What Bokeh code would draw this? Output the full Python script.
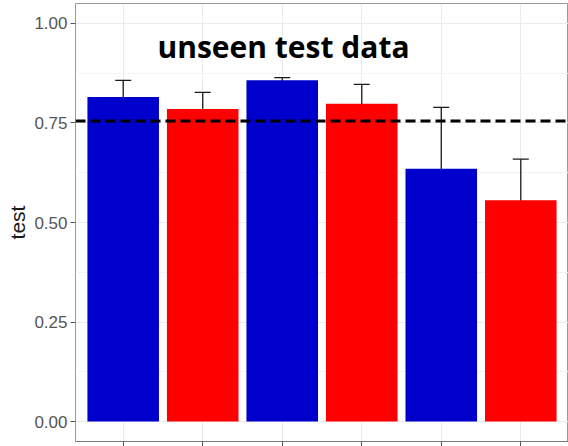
from bokeh.plotting import figure
from bokeh.models import (ColumnDataSource, Range1d, FixedTicker, Whisker, TeeHead,
                          Span, Label, CustomJSTickFormatter)
from bokeh.embed import file_html
from bokeh.resources import INLINE

# Six groups, alternating between the two model families
positions = [1, 2, 3, 4, 5, 6]
bar_colors = ["#0000CC", "#FF0000", "#0000CC", "#FF0000", "#0000CC", "#FF0000"]
test_score = [0.815, 0.785, 0.857, 0.798, 0.635, 0.556]
score_low = [0.774, 0.746, 0.830, 0.751, 0.484, 0.449]
score_high = [0.857, 0.827, 0.864, 0.847, 0.789, 0.659]
baseline = 0.755
y_ticks = [0.0, 0.25, 0.5, 0.75, 1.0]
y_minor = [0.125, 0.375, 0.625, 0.875]

src = ColumnDataSource(dict(x=positions, top=test_score, lo=score_low,
                            hi=score_high, color=bar_colors))

p = figure(width=568, height=446, output_backend="svg", toolbar_location=None,
           x_range=Range1d(0.4, 6.6), y_range=Range1d(-0.05, 1.05),
           min_border_left=75, min_border_right=0, min_border_top=3,
           min_border_bottom=5)
p.background_fill_color = "white"
p.border_fill_color = "white"
p.outline_line_color = "#9a9a9a"
p.outline_line_width = 1

# grid
p.xaxis.ticker = FixedTicker(ticks=positions)
p.yaxis.ticker = FixedTicker(ticks=y_ticks, minor_ticks=y_minor)
p.xgrid.grid_line_color = "#EBEBEB"
p.ygrid.grid_line_color = "#EBEBEB"
p.ygrid.minor_grid_line_color = "#F3F3F3"

# y axis
ya = p.yaxis[0]
ya.axis_label = "test"
ya.axis_label_text_font = "Liberation Sans"
ya.axis_label_text_font_size = "21px"
ya.axis_label_text_font_style = "normal"
ya.axis_label_text_color = "#1a1a1a"
ya.axis_label_standoff = 2
ya.major_label_text_font = "Liberation Sans"
ya.major_label_text_font_size = "17px"
ya.major_label_text_color = "#555555"
ya.major_label_standoff = 3
ya.major_tick_out = 5
ya.major_tick_in = 0
ya.major_tick_line_color = "#555555"
ya.minor_tick_line_color = None
ya.axis_line_color = None
ya.formatter = CustomJSTickFormatter(code="return tick.toFixed(2);")

# x axis: ticks only, the category labels sit below the canvas
xa = p.xaxis[0]
xa.major_label_text_font_size = "0px"
xa.major_label_text_color = None
xa.major_label_standoff = 0
xa.major_tick_out = 5
xa.major_tick_in = 0
xa.major_tick_line_color = "#555555"
xa.minor_tick_line_color = None
xa.axis_line_color = "#777777"

# bars
p.vbar(x="x", top="top", bottom=0, width=0.9, fill_color="color",
       line_color=None, source=src)

# error bars
p.add_layout(Whisker(base="x", lower="lo", upper="hi", source=src,
                     line_color="#1a1a1a", line_width=1.3,
                     upper_head=TeeHead(size=16, line_color="#1a1a1a", line_width=1.3),
                     lower_head=TeeHead(size=16, line_color="#1a1a1a", line_width=1.3)))

# reference level
p.add_layout(Span(location=baseline, dimension="width", line_color="black",
                  line_width=3, line_dash="10 5"))

p.add_layout(Label(x=82, y=395.5, x_units="screen", y_units="screen",
                   text="unseen test data", text_font="Open Sans",
                   text_font_style="bold", text_font_size="30px",
                   text_color="black", text_baseline="alphabetic"))

open("out.html", "w").write(file_html(p, INLINE))
